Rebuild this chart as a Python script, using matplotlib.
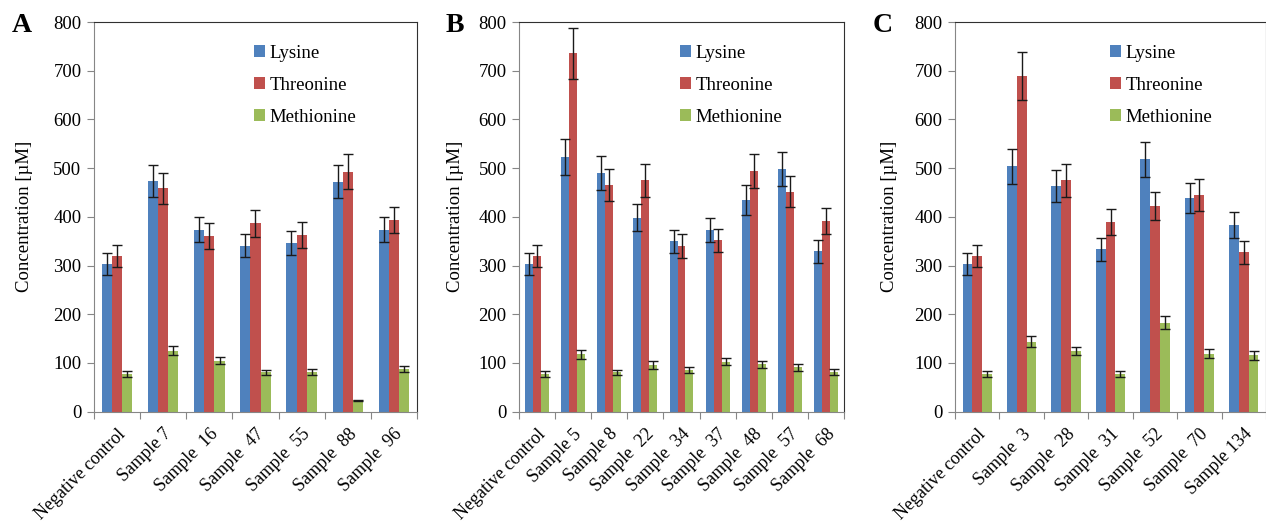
import numpy as np
import matplotlib
matplotlib.use('Agg')
import matplotlib.pyplot as plt

plt.rcParams['font.family'] = ['Liberation Serif', 'DejaVu Serif']

# panel A
labels_a = ['Negative control', 'Sample 7', 'Sample  16', 'Sample  47', 'Sample  55', 'Sample  88', 'Sample  96']
lys_a = [303, 473, 374, 341, 346, 472, 374]
lys_a_err = [22, 33, 26, 24, 25, 34, 26]
thr_a = [320, 459, 361, 387, 363, 493, 393]
thr_a_err = [23, 32, 26, 28, 26, 35, 27]
met_a = [77, 125, 105, 81, 81, 23, 88]
met_a_err = [6, 9, 7, 5, 6, 2, 6]

# panel B
labels_b = ['Negative control', 'Sample 5', 'Sample 8', 'Sample  22', 'Sample  34', 'Sample  37', 'Sample  48', 'Sample  57', 'Sample  68']
lys_b = [303, 522, 490, 398, 350, 373, 435, 498, 329]
lys_b_err = [22, 37, 35, 28, 24, 25, 31, 35, 24]
thr_b = [320, 736, 465, 475, 340, 352, 495, 452, 392]
thr_b_err = [23, 52, 33, 34, 24, 24, 35, 32, 27]
met_b = [77, 118, 81, 96, 86, 103, 97, 91, 81]
met_b_err = [6, 9, 5, 8, 6, 8, 7, 7, 6]

# panel C
labels_c = ['Negative control', 'Sample  3', 'Sample  28', 'Sample  31', 'Sample  52', 'Sample  70', 'Sample 134']
lys_c = [303, 504, 464, 333, 518, 439, 383]
lys_c_err = [22, 36, 33, 24, 36, 31, 27]
thr_c = [320, 689, 475, 390, 422, 445, 327]
thr_c_err = [23, 49, 34, 27, 29, 32, 24]
met_c = [77, 144, 125, 77, 183, 119, 116]
met_c_err = [6, 11, 8, 6, 14, 9, 9]

names = ['Lysine', 'Threonine', 'Methionine']
colors = ['#4F81BD', '#C0504D', '#9BBB59']

W, H = 1266, 521
fig = plt.figure(figsize=(W / 100, H / 100), dpi=100)

# letter, labels, values, errors, axes x0/x1 (px), letter x, ylabel right edge x
panels = [
    ('A', labels_a, [lys_a, thr_a, met_a], [lys_a_err, thr_a_err, met_a_err], 94, 417, 22, 33),
    ('B', labels_b, [lys_b, thr_b, met_b], [lys_b_err, thr_b_err, met_b_err], 519, 844, 455, 464),
    ('C', labels_c, [lys_c, thr_c, met_c], [lys_c_err, thr_c_err, met_c_err], 955, 1266, 883, 898),
]

top, bottom = 22, 411.7
for letter, labs, vals, errs, x0, x1, lx, ylx in panels:
    ax = fig.add_axes([x0 / W, 1 - bottom / H, (x1 - x0) / W, (bottom - top) / H])
    n = len(labs)
    x = np.arange(n)
    bw = 0.22
    for i in range(3):
        ax.bar(x + (i - 1) * bw, vals[i], bw, color=colors[i], label=names[i],
               yerr=errs[i], capsize=3.5,
               error_kw=dict(ecolor='#1a1a1a', elinewidth=1.0, capthick=1.0))
    ax.set_xlim(-0.5, n - 0.5)
    ax.set_ylim(0, 800)
    ax.set_yticks(range(0, 801, 100))
    ax.set_xticks(np.arange(n + 1) - 0.5)
    ax.set_xticklabels([])
    ax.set_xticks(x, minor=True)
    ax.set_xticklabels(labs, minor=True, rotation=45, ha='right', rotation_mode='anchor', fontsize=13)
    ax.tick_params(axis='x', which='minor', length=0, pad=10)
    ax.tick_params(axis='x', which='major', length=5, color='#868686', direction='out')
    ax.tick_params(axis='y', length=5, color='#868686', direction='out', labelsize=13.5, pad=4)
    for s in ['left', 'bottom']:
        ax.spines[s].set_color('#868686')
    for s in ['top', 'right']:
        ax.spines[s].set_color('#303030')
    ax.set_ylabel('Concentration [µM]', fontsize=13.5)
    ax.yaxis.set_label_coords((ylx - x0) / (x1 - x0), 0.5)
    ax.legend(loc='upper left', bbox_to_anchor=((250 - 94) / 323 - 0.04, 0.985), frameon=False,
              fontsize=13.5, handlelength=0.6, handleheight=0.6, handletextpad=0.25,
              labelspacing=0.8)
    fig.text(lx / W, 1 - 25 / H, letter, fontsize=20, fontweight='bold', ha='center', va='center')

fig.savefig('out.png', dpi=100)
